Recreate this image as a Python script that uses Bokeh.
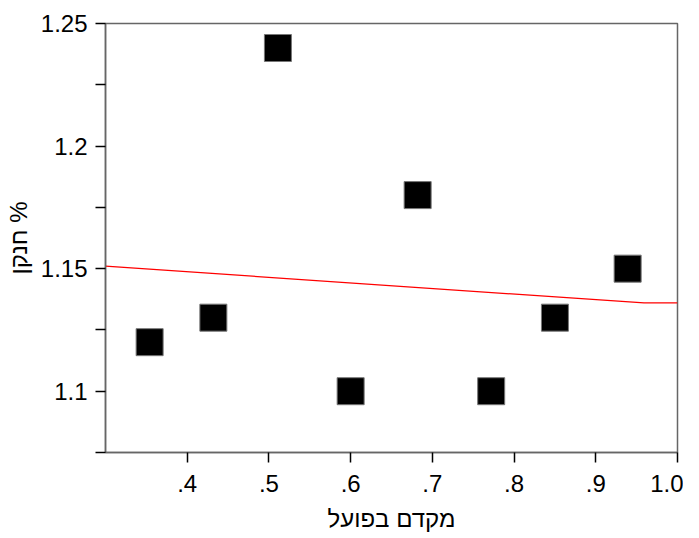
from bokeh.plotting import figure
from bokeh.models import FixedTicker, Range1d
from bokeh.embed import file_html
from bokeh.resources import INLINE

# data
x_vals = [0.354, 0.432, 0.511, 0.600, 0.682, 0.772, 0.850, 0.939]
y_vals = [1.120, 1.130, 1.240, 1.100, 1.180, 1.100, 1.130, 1.150]
fit_x = [0.30, 0.959, 1.00]
fit_y = [1.151, 1.136, 1.136]
x_ticks = [0.4, 0.5, 0.6, 0.7, 0.8, 0.9, 1.0]
x_labels = [".4", ".5", ".6", ".7", ".8", ".9", "1.0"]
y_ticks = [1.10, 1.15, 1.20, 1.25]
y_labels = ["1.1", "1.15", "1.2", "1.25"]
y_minor = [1.075, 1.125, 1.175, 1.225]

FONT = "Liberation Sans"

p = figure(width=683, height=538, output_backend="svg", toolbar_location=None,
           x_range=Range1d(0.30, 1.0), y_range=Range1d(1.075, 1.25),
           min_border_left=105, min_border_right=6, min_border_top=23, min_border_bottom=86)
p.grid.visible = False
p.outline_line_color = "#666666"
p.outline_line_width = 1.5

p.line(fit_x, fit_y, line_color="red", line_width=1.2)
p.scatter(x_vals, y_vals, marker="square", size=27, fill_color="black", line_color="#777777", line_width=1)

p.xaxis.ticker = FixedTicker(ticks=x_ticks, minor_ticks=[])
p.xaxis.major_label_overrides = {t: l for t, l in zip(x_ticks, x_labels)}
p.yaxis.ticker = FixedTicker(ticks=y_ticks, minor_ticks=y_minor)
p.yaxis.major_label_overrides = {t: l for t, l in zip(y_ticks, y_labels)}

for ax in (p.xaxis[0], p.yaxis[0]):
    ax.axis_line_color = "#666666"
    ax.axis_line_width = 1.5
    ax.major_tick_line_color = "black"
    ax.minor_tick_line_color = "black"
    ax.major_tick_line_width = 1.5
    ax.minor_tick_line_width = 1.5
    ax.major_tick_in = 0
    ax.minor_tick_in = 0
    ax.major_label_text_font = FONT
    ax.major_label_text_font_size = "24px"
    ax.major_label_text_color = "black"
    ax.axis_label_text_font = FONT
    ax.axis_label_text_font_size = "24px"
    ax.axis_label_text_font_style = "normal"
    ax.axis_label_text_color = "black"

p.xaxis.major_tick_out = 10
p.yaxis.major_tick_out = 10
p.yaxis.minor_tick_out = 10
p.xaxis.major_label_standoff = 12
p.yaxis.major_label_standoff = 8
p.xaxis.axis_label = "מקדם בפועל"
p.yaxis.axis_label = "חנקן %"
p.xaxis.axis_label_standoff = 10
p.yaxis.axis_label_standoff = 6

open("out.html", "w").write(file_html(p, INLINE))
